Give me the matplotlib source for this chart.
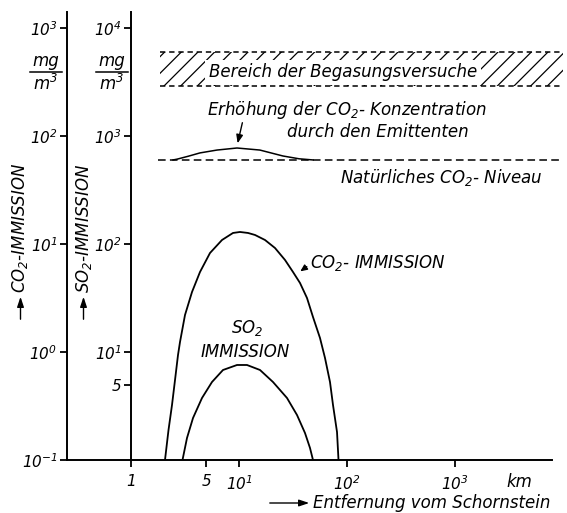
import matplotlib
matplotlib.use('Agg')
import matplotlib.pyplot as plt
from matplotlib.lines import Line2D
from matplotlib.patches import FancyArrowPatch
from matplotlib.ticker import FixedLocator, FixedFormatter, NullLocator

plt.rcParams['font.family'] = ['DejaVu Sans']
plt.rcParams['font.style'] = 'italic'
plt.rcParams['mathtext.fontset'] = 'custom'
plt.rcParams['mathtext.rm'] = 'DejaVu Sans:italic'
plt.rcParams['mathtext.it'] = 'DejaVu Sans:italic'
plt.rcParams['mathtext.bf'] = 'DejaVu Sans:italic:bold'
plt.rcParams['hatch.linewidth'] = 0.9

# ---------------- data ----------------
# CO2 immission (left axis, mg/m3) vs distance (km)
co2_km = [2.064, 2.225, 2.397, 2.556, 2.724, 2.843, 3.162, 3.672, 4.354, 5.389, 6.960,
          8.799, 10.21, 12.12, 14.07, 17.41, 21.54, 26.67, 31.62, 36.72, 42.62, 48.43,
          56.23, 62.57, 69.59, 74.20, 80.82, 83.44]
co2_val = [0.1, 0.1896, 0.3231, 0.5505, 0.938, 1.238, 2.200, 3.594, 5.506, 8.254, 10.89,
           12.65, 12.92, 12.65, 12.12, 10.89, 9.183, 7.113, 5.506, 4.355, 3.162, 2.109,
           1.348, 0.880, 0.5275, 0.3231, 0.1816, 0.1]
# SO2 immission (second axis, mg/m3)
so2_km = [2.998, 3.300, 3.751, 4.544, 5.623, 7.109, 9.583, 11.86, 15.65, 20.64, 27.83,
          34.44, 40.84, 45.44, 48.43]
so2_val = [1.0, 1.599, 2.448, 3.751, 5.275, 6.813, 7.580, 7.580, 6.813, 5.275, 3.751,
           2.610, 1.778, 1.292, 1.0]
# natural CO2 level and raise by the emitter
co2_level_km = [1.78, 10000]
co2_level = [60, 60]
hump_km = [2.45, 2.67, 3.4, 4.35, 6.26, 9.58, 15.6, 25.5, 36.0, 48.4]
hump_val = [60, 61, 65, 69.7, 74.1, 77.4, 74.1, 65.3, 61.5, 60]
# range of fumigation experiments
band_km = [1.86, 10000]
band_lo = [290, 290]
band_hi = [600, 600]

x_ticks = [1, 5, 10, 100, 1000]
x_labels = ['1', '5', '$10^{1}$', '$10^{2}$', '$10^{3}$']
y1_ticks = [0.1, 1, 10, 100, 1000]
y1_labels = ['$10^{-1}$', '$10^{0}$', '$10^{1}$', '$10^{2}$', '$10^{3}$']
y2_ticks = [5, 10, 100, 1000, 10000]
y2_labels = ['5', '$10^{1}$', '$10^{2}$', '$10^{3}$', '$10^{4}$']

xlim = (0.2555, 7910)
y1lim = (0.1, 1406)
y2lim = (y1lim[0] * 10, y1lim[1] * 10)

W, H = 567, 513
fig = plt.figure(figsize=(W / 100, H / 100), dpi=100)
ax = fig.add_axes([67 / W, 1 - 460 / H, (552 - 67) / W, (460 - 12) / H])
ax.set_xscale('log')
ax.set_yscale('log')
ax.set_xlim(*xlim)
ax.set_ylim(*y1lim)
for s in ['top', 'right']:
    ax.spines[s].set_visible(False)
for s in ['left', 'bottom']:
    ax.spines[s].set_linewidth(1.4)

ax.xaxis.set_major_locator(FixedLocator(x_ticks))
ax.xaxis.set_major_formatter(FixedFormatter(x_labels))
ax.xaxis.set_minor_locator(NullLocator())
ax.yaxis.set_major_locator(FixedLocator(y1_ticks))
ax.yaxis.set_major_formatter(FixedFormatter(y1_labels))
ax.yaxis.set_minor_locator(NullLocator())
ax.tick_params(axis='both', direction='out', length=5, width=1.3, labelsize=11)
ax.tick_params(axis='x', pad=5)
ax.tick_params(axis='y', pad=2)

ax2 = ax.twinx()
ax2.set_yscale('log')
ax2.set_ylim(*y2lim)
for s in ['top', 'right', 'bottom']:
    ax2.spines[s].set_visible(False)
ax2.spines['left'].set_visible(True)
ax2.spines['left'].set_position(('data', 1))
ax2.spines['left'].set_linewidth(1.4)
ax2.yaxis.tick_left()
ax2.yaxis.set_major_locator(FixedLocator(y2_ticks))
ax2.yaxis.set_major_formatter(FixedFormatter(y2_labels))
ax2.yaxis.set_minor_locator(NullLocator())
ax2.tick_params(axis='y', direction='out', length=5, width=1.3, labelsize=11, pad=2)

# curves
ax.plot(co2_km, co2_val, color='black', lw=1.3, solid_joinstyle='round')
ax2.plot(so2_km, so2_val, color='black', lw=1.3, solid_joinstyle='round')

# natural level and hump
ax.plot(co2_level_km, co2_level, color='black', lw=1.1, ls=(0, (5, 2.8)), clip_on=False)
ax.plot(hump_km, hump_val, color='black', lw=1.1, solid_joinstyle='round')

# hatched band
ax.fill_between(band_km, band_lo, band_hi, facecolor='none', edgecolor='black',
                hatch='//', linewidth=0, clip_on=False)
ax.plot(band_km, band_lo, color='black', lw=1.1, ls=(0, (3.5, 2.5)), clip_on=False)
ax.plot(band_km, band_hi, color='black', lw=1.1, ls=(0, (3.5, 2.5)), clip_on=False)


def P(x, y):
    return (x / W, 1 - y / H)


fs = 12
fig.text(*P(343, 72), 'Bereich der Begasungsversuche', ha='center', va='center', fontsize=fs,
         bbox=dict(facecolor='white', edgecolor='none', pad=2.5))
fig.text(*P(207, 110), 'Erhöhung der CO$_2$- Konzentration', ha='left', va='center', fontsize=fs)
fig.text(*P(287, 132), 'durch den Emittenten', ha='left', va='center', fontsize=fs)
fig.text(*P(340, 178), 'Natürliches CO$_2$- Niveau', ha='left', va='center', fontsize=fs)
fig.text(*P(310, 263), 'CO$_2$- IMMISSION', ha='left', va='center', fontsize=fs)
fig.text(*P(247, 328), 'SO$_2$', ha='center', va='center', fontsize=fs)
fig.text(*P(245, 352), 'IMMISSION', ha='center', va='center', fontsize=fs)

fig.add_artist(FancyArrowPatch(P(243, 120), P(237, 146), transform=fig.transFigure,
                               arrowstyle='-|>,head_length=5,head_width=2',
                               color='black', lw=1.0))
fig.add_artist(FancyArrowPatch(P(309, 265), P(298, 273), transform=fig.transFigure,
                               arrowstyle='-|>,head_length=4,head_width=1.8',
                               color='black', lw=1.0))

# units (fractions)
for cx in (46, 112):
    fig.text(*P(cx, 61), 'mg', ha='center', va='center', fontsize=12)
    fig.text(*P(cx, 84), 'm$^{3}$', ha='center', va='center', fontsize=12)
    fig.add_artist(Line2D([(cx - 16) / W, (cx + 16) / W], [1 - 72 / H, 1 - 72 / H],
                          transform=fig.transFigure, color='black', lw=1.1))

# axis titles
fig.text(*P(20, 228), 'CO$_2$-IMMISSION', rotation=90, ha='center', va='center', fontsize=fs)
fig.text(*P(84, 228), 'SO$_2$-IMMISSION', rotation=90, ha='center', va='center', fontsize=fs)
for cx in (20.5, 83.5):
    fig.add_artist(FancyArrowPatch(P(cx, 322), P(cx, 294), transform=fig.transFigure,
                                   arrowstyle='-|>,head_length=6,head_width=2',
                                   color='black', lw=1.0))

fig.text(*P(519, 482), 'km', ha='center', va='center', fontsize=fs)
fig.text(*P(313, 503), 'Entfernung vom Schornstein', ha='left', va='center', fontsize=fs)
fig.add_artist(FancyArrowPatch(P(267, 503), P(312, 503), transform=fig.transFigure,
                               arrowstyle='-|>,head_length=6,head_width=2',
                               color='black', lw=1.0))

fig.savefig('out.png', dpi=100)
